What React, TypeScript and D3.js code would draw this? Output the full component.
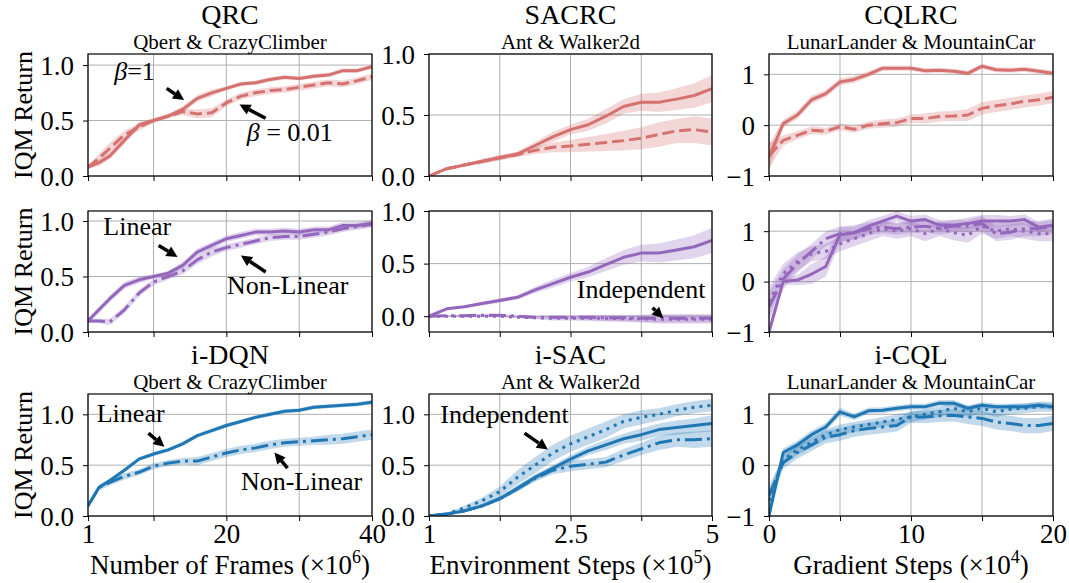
import { useEffect, useRef } from 'react';
import * as d3 from 'd3';

// ---- x grids ----
const framesX = [1, 2.5, 4, 6, 8, 10, 12, 14, 16, 18, 20, 22, 24, 26, 28, 30, 32, 34, 36, 38, 40];
const envX = [1, 1.25, 1.5, 1.75, 2, 2.25, 2.5, 2.75, 3, 3.25, 3.5, 3.75, 4, 4.25, 4.5, 4.75, 5];
const gradX = [0, 1, 2, 3, 4, 5, 6, 7, 8, 9, 10, 11, 12, 13, 14, 15, 16, 17, 18, 19, 20];

// ---- QRC ----
const qrcBeta1 = [0.08, 0.12, 0.18, 0.32, 0.46, 0.5, 0.54, 0.6, 0.7, 0.75, 0.79, 0.83, 0.84, 0.87, 0.89, 0.88, 0.9, 0.91, 0.95, 0.95, 0.985];
const qrcBeta1Err = [0.02, 0.03, 0.03, 0.03, 0.03, 0.02, 0.02, 0.03, 0.03, 0.03, 0.02, 0.02, 0.02, 0.02, 0.02, 0.02, 0.02, 0.02, 0.02, 0.02, 0.02];
const qrcBeta001 = [0.08, 0.16, 0.25, 0.37, 0.44, 0.5, 0.54, 0.58, 0.56, 0.57, 0.66, 0.72, 0.75, 0.77, 0.78, 0.8, 0.82, 0.84, 0.83, 0.86, 0.895];
const qrcBeta001Err = [0.02, 0.04, 0.05, 0.04, 0.03, 0.02, 0.02, 0.03, 0.04, 0.04, 0.03, 0.03, 0.03, 0.03, 0.03, 0.03, 0.03, 0.03, 0.03, 0.03, 0.03];

// ---- SACRC ----
const sacrcBeta1 = [0, 0.06, 0.09, 0.12, 0.15, 0.18, 0.25, 0.32, 0.38, 0.42, 0.49, 0.57, 0.605, 0.605, 0.63, 0.66, 0.715];
const sacrcBeta1Err = [0, 0.01, 0.01, 0.02, 0.02, 0.02, 0.03, 0.04, 0.04, 0.05, 0.06, 0.06, 0.07, 0.08, 0.09, 0.1, 0.11];
const sacrcBeta001 = [0, 0.06, 0.09, 0.12, 0.15, 0.175, 0.21, 0.235, 0.245, 0.26, 0.275, 0.29, 0.31, 0.34, 0.37, 0.38, 0.36];
const sacrcBeta001Err = [0, 0.01, 0.01, 0.02, 0.02, 0.02, 0.03, 0.04, 0.05, 0.06, 0.07, 0.08, 0.09, 0.1, 0.1, 0.11, 0.11];

// ---- CQLRC ----
const cqlrcBeta1 = [-0.63, 0.03, 0.2, 0.5, 0.62, 0.85, 0.9, 1.0, 1.12, 1.12, 1.12, 1.07, 1.08, 1.06, 1.02, 1.16, 1.09, 1.08, 1.1, 1.06, 1.02];
const cqlrcBeta1Err = [0.25, 0.08, 0.08, 0.08, 0.07, 0.07, 0.07, 0.06, 0.05, 0.05, 0.05, 0.05, 0.05, 0.05, 0.05, 0.05, 0.05, 0.05, 0.05, 0.05, 0.05];
const cqlrcBeta001 = [-0.6, -0.3, -0.2, -0.1, -0.12, -0.03, -0.08, 0.0, 0.03, 0.05, 0.13, 0.13, 0.17, 0.18, 0.2, 0.33, 0.38, 0.42, 0.47, 0.5, 0.55];
const cqlrcBeta001Err = [0.25, 0.1, 0.08, 0.08, 0.07, 0.07, 0.07, 0.07, 0.08, 0.08, 0.08, 0.1, 0.1, 0.1, 0.12, 0.12, 0.12, 0.12, 0.12, 0.12, 0.12];

// ---- row 2: purple ----
const dqnRcLinear = [0.1, 0.2, 0.3, 0.42, 0.47, 0.5, 0.53, 0.6, 0.72, 0.78, 0.84, 0.87, 0.9, 0.9, 0.91, 0.9, 0.92, 0.92, 0.96, 0.96, 0.98];
const dqnRcLinearErr = [0.02, 0.03, 0.03, 0.03, 0.03, 0.02, 0.02, 0.03, 0.03, 0.03, 0.03, 0.03, 0.03, 0.03, 0.03, 0.03, 0.03, 0.03, 0.03, 0.03, 0.03];
const dqnRcNonLinear = [0.1, 0.1, 0.09, 0.2, 0.35, 0.45, 0.5, 0.55, 0.65, 0.72, 0.76, 0.79, 0.82, 0.85, 0.86, 0.86, 0.88, 0.9, 0.93, 0.95, 0.97];
const dqnRcNonLinearErr = [0.02, 0.02, 0.03, 0.03, 0.03, 0.03, 0.03, 0.03, 0.04, 0.04, 0.03, 0.03, 0.03, 0.03, 0.03, 0.03, 0.03, 0.03, 0.03, 0.03, 0.03];

const sacRcShared = [0, 0.07, 0.09, 0.12, 0.15, 0.18, 0.25, 0.31, 0.37, 0.42, 0.49, 0.56, 0.6, 0.6, 0.63, 0.66, 0.72];
const sacRcSharedErr = [0, 0.01, 0.01, 0.02, 0.02, 0.02, 0.03, 0.04, 0.04, 0.05, 0.06, 0.07, 0.08, 0.09, 0.1, 0.11, 0.12];
const sacRcIndepA = [0, 0.005, 0.005, 0.01, 0.01, 0.0, -0.01, -0.01, -0.01, -0.01, -0.015, -0.015, -0.02, -0.02, -0.02, -0.02, -0.02];
const sacRcIndepB = [0, 0.0, 0.0, 0.0, 0.0, -0.01, -0.015, -0.02, -0.02, -0.02, -0.02, -0.025, -0.025, -0.03, -0.03, -0.03, -0.03];
const sacRcIndepErr = [0, 0.005, 0.01, 0.01, 0.01, 0.01, 0.015, 0.02, 0.02, 0.025, 0.03, 0.03, 0.035, 0.04, 0.04, 0.04, 0.04];

const cqlRcSolid = [-1, 0.0, 0.03, 0.15, 0.3, 0.93, 0.97, 1.1, 1.2, 1.3, 1.2, 1.23, 1.12, 1.12, 1.15, 1.2, 1.2, 1.2, 1.23, 1.08, 1.12];
const cqlRcSolidErr = [0.1, 0.06, 0.1, 0.2, 0.2, 0.15, 0.12, 0.12, 0.1, 0.1, 0.1, 0.1, 0.1, 0.1, 0.12, 0.12, 0.12, 0.1, 0.1, 0.1, 0.1];
const cqlRcDashDot = [-0.5, 0.05, 0.35, 0.6, 0.85, 0.95, 0.97, 1.05, 1.08, 1.05, 1.08, 1.1, 1.05, 1.1, 1.1, 1.15, 0.95, 0.98, 1.05, 1.05, 1.1];
const cqlRcDashDotErr = [0.3, 0.2, 0.18, 0.15, 0.15, 0.15, 0.15, 0.12, 0.12, 0.12, 0.12, 0.12, 0.12, 0.12, 0.12, 0.15, 0.15, 0.15, 0.15, 0.15, 0.15];
const cqlRcDotted = [-0.4, 0.15, 0.4, 0.55, 0.6, 0.75, 0.85, 0.95, 1.05, 1.0, 1.05, 0.95, 1.05, 0.97, 0.92, 1.1, 1.0, 1.05, 1.0, 0.95, 0.95];
const cqlRcDottedErr = [0.3, 0.2, 0.18, 0.15, 0.15, 0.15, 0.15, 0.15, 0.15, 0.15, 0.15, 0.15, 0.15, 0.15, 0.15, 0.15, 0.15, 0.15, 0.15, 0.15, 0.15];

// ---- row 3: blue ----
const iDqnLinear = [0.1, 0.28, 0.35, 0.45, 0.56, 0.61, 0.65, 0.71, 0.79, 0.84, 0.89, 0.93, 0.97, 1.0, 1.03, 1.04, 1.07, 1.08, 1.09, 1.1, 1.12];
const iDqnLinearErr = [0.02, 0.02, 0.02, 0.02, 0.02, 0.02, 0.02, 0.02, 0.02, 0.02, 0.02, 0.02, 0.02, 0.02, 0.02, 0.02, 0.02, 0.02, 0.02, 0.02, 0.02];
const iDqnNonLinear = [0.1, 0.28, 0.33, 0.39, 0.43, 0.49, 0.52, 0.54, 0.54, 0.58, 0.62, 0.65, 0.67, 0.7, 0.72, 0.73, 0.74, 0.75, 0.76, 0.78, 0.8];
const iDqnNonLinearErr = [0.02, 0.03, 0.03, 0.03, 0.03, 0.03, 0.03, 0.03, 0.04, 0.04, 0.04, 0.04, 0.04, 0.04, 0.04, 0.04, 0.04, 0.05, 0.05, 0.05, 0.05];

const iSacShared = [0, 0.02, 0.05, 0.1, 0.17, 0.27, 0.38, 0.47, 0.56, 0.64, 0.7, 0.76, 0.8, 0.85, 0.87, 0.89, 0.91];
const iSacSharedErr = [0, 0.01, 0.01, 0.02, 0.02, 0.03, 0.03, 0.03, 0.04, 0.04, 0.05, 0.05, 0.06, 0.06, 0.07, 0.07, 0.08];
const iSacIndependent = [0, 0.02, 0.08, 0.15, 0.24, 0.38, 0.5, 0.62, 0.71, 0.78, 0.85, 0.93, 0.97, 1.0, 1.04, 1.07, 1.09];
const iSacIndependentErr = [0, 0.01, 0.02, 0.03, 0.05, 0.07, 0.08, 0.08, 0.08, 0.08, 0.08, 0.07, 0.07, 0.06, 0.06, 0.06, 0.06];
const iSacNonShared = [0, 0.02, 0.05, 0.1, 0.17, 0.27, 0.37, 0.45, 0.49, 0.51, 0.53, 0.6, 0.66, 0.72, 0.75, 0.75, 0.76];
const iSacNonSharedErr = [0, 0.01, 0.01, 0.02, 0.02, 0.03, 0.03, 0.04, 0.05, 0.05, 0.05, 0.06, 0.06, 0.07, 0.07, 0.08, 0.08];

const iCqlSolid = [-1, 0.25, 0.4, 0.6, 0.75, 1.05, 0.95, 1.07, 1.08, 1.12, 1.15, 1.15, 1.22, 1.22, 1.12, 1.18, 1.15, 1.15, 1.15, 1.18, 1.15];
const iCqlSolidErr = [0.1, 0.08, 0.08, 0.08, 0.08, 0.08, 0.06, 0.06, 0.06, 0.06, 0.06, 0.06, 0.06, 0.06, 0.06, 0.06, 0.06, 0.06, 0.06, 0.06, 0.06];
const iCqlDotted = [-0.7, 0.1, 0.3, 0.45, 0.6, 0.7, 0.75, 0.8, 0.85, 0.9, 0.95, 1.0, 1.05, 1.12, 1.05, 1.12, 1.05, 1.1, 1.12, 1.15, 1.15];
const iCqlDottedErr = [0.2, 0.1, 0.1, 0.1, 0.1, 0.1, 0.1, 0.1, 0.1, 0.1, 0.1, 0.1, 0.1, 0.1, 0.1, 0.1, 0.1, 0.1, 0.1, 0.1, 0.1];
const iCqlDashDot = [-0.6, 0.05, 0.25, 0.4, 0.55, 0.6, 0.68, 0.72, 0.75, 0.78, 0.95, 0.95, 0.97, 0.98, 0.95, 0.92, 0.85, 0.82, 0.78, 0.78, 0.82];
const iCqlDashDotErr = [0.2, 0.12, 0.12, 0.12, 0.12, 0.12, 0.12, 0.12, 0.12, 0.12, 0.12, 0.12, 0.12, 0.12, 0.14, 0.15, 0.15, 0.15, 0.15, 0.15, 0.15];

// ---- ticks ----
const framesTicks = [1, 10, 20, 30, 40];
const framesTickLabels = ['1', '', '20', '', '40'];
const envTicks = [1, 2, 3, 4, 5];
const envTickLabels = ['1', '', '2.5', '', '5'];
const gradTicks = [0, 5, 10, 15, 20];
const gradTickLabels = ['0', '', '10', '', '20'];
const unitTicks = [0, 0.5, 1];
const unitTickLabels = ['0.0', '0.5', '1.0'];
const wideTicks = [-1, 0, 1];
const wideTickLabels = ['\u22121', '0', '1'];

const titles = ['QRC', 'SACRC', 'CQLRC', '', '', '', 'i-DQN', 'i-SAC', 'i-CQL'];
const subtitles = ['Qbert & CrazyClimber', 'Ant & Walker2d', 'LunarLander & MountainCar'];
const xLabels = [
    { text: 'Number of Frames (\u00d710', exp: '6' },
    { text: 'Environment Steps (\u00d710', exp: '5' },
    { text: 'Gradient Steps (\u00d710', exp: '4' },
];

const RED = '#d5716f';
const PURPLE = '#9467bd';
const BLUE = '#1f77b4';
const FONT = 'Liberation Serif';

const DASH = { solid: null, dashed: '12,5', dashdot: '17,5,3,5', dotted: '3,5' };

const cols = [
    { left: 88, right: 372 },
    { left: 429, right: 712 },
    { left: 769, right: 1053 },
];
const rows = [
    { top: 54, bottom: 176 },
    { top: 211, bottom: 332 },
    { top: 394, bottom: 516 },
];

const s = (x, y, err, style) => ({ x, y, err, style });

const panels = [
    {
        xDomain: [1, 40], yDomain: [0, 1.1], xTicks: framesTicks, xLabels: framesTickLabels, yTicks: unitTicks, yLabels: unitTickLabels, color: RED,
        series: [s(framesX, qrcBeta1, qrcBeta1Err, 'solid'), s(framesX, qrcBeta001, qrcBeta001Err, 'dashed')],
        notes: [
            { label: [['β', true], ['=1', false]], at: [4.6, 0.865], from: [11.8, 0.79], to: [14.2, 0.685] },
            { label: [['β', true], [' = 0.01', false]], at: [22.8, 0.32], from: [25.4, 0.52], to: [21.8, 0.645] },
        ],
    },
    {
        xDomain: [1, 5], yDomain: [0, 1], xTicks: envTicks, xLabels: envTickLabels, yTicks: unitTicks, yLabels: unitTickLabels, color: RED,
        series: [s(envX, sacrcBeta1, sacrcBeta1Err, 'solid'), s(envX, sacrcBeta001, sacrcBeta001Err, 'dashed')],
        notes: [],
    },
    {
        xDomain: [0, 20], yDomain: [-1, 1.4], xTicks: gradTicks, xLabels: gradTickLabels, yTicks: wideTicks, yLabels: wideTickLabels, color: RED,
        series: [s(gradX, cqlrcBeta1, cqlrcBeta1Err, 'solid'), s(gradX, cqlrcBeta001, cqlrcBeta001Err, 'dashed')],
        notes: [],
    },
    {
        xDomain: [1, 40], yDomain: [0, 1.09], xTicks: framesTicks, xLabels: framesTickLabels, yTicks: unitTicks, yLabels: unitTickLabels, color: PURPLE,
        series: [s(framesX, dqnRcLinear, dqnRcLinearErr, 'solid'), s(framesX, dqnRcNonLinear, dqnRcNonLinearErr, 'dashdot')],
        notes: [
            { label: [['Linear', false]], at: [3.1, 0.87], from: [10.7, 0.78], to: [13.3, 0.675] },
            { label: [['Non-Linear', false]], at: [20.1, 0.345], from: [25.4, 0.54], to: [22.0, 0.69] },
        ],
    },
    {
        xDomain: [1, 5], yDomain: [-0.15, 1], xTicks: envTicks, xLabels: envTickLabels, yTicks: unitTicks, yLabels: unitTickLabels, color: PURPLE,
        series: [s(envX, sacRcShared, sacRcSharedErr, 'solid'), s(envX, sacRcIndepA, sacRcIndepErr, 'dashdot'), s(envX, sacRcIndepB, sacRcIndepErr, 'dotted')],
        notes: [
            { label: [['Independent', false]], at: [3.09, 0.17], from: [4.16, 0.08], to: [4.31, -0.02] },
        ],
    },
    {
        xDomain: [0, 20], yDomain: [-1, 1.4], xTicks: gradTicks, xLabels: gradTickLabels, yTicks: wideTicks, yLabels: wideTickLabels, color: PURPLE,
        series: [s(gradX, cqlRcSolid, cqlRcSolidErr, 'solid'), s(gradX, cqlRcDashDot, cqlRcDashDotErr, 'dashdot'), s(gradX, cqlRcDotted, cqlRcDottedErr, 'dotted')],
        notes: [],
    },
    {
        xDomain: [1, 40], yDomain: [0, 1.2], xTicks: framesTicks, xLabels: framesTickLabels, yTicks: unitTicks, yLabels: unitTickLabels, color: BLUE,
        series: [s(framesX, iDqnLinear, iDqnLinearErr, 'solid'), s(framesX, iDqnNonLinear, iDqnNonLinearErr, 'dashdot')],
        notes: [
            { label: [['Linear', false]], at: [2.2, 0.925], from: [9.3, 0.815], to: [11.5, 0.68] },
            { label: [['Non-Linear', false]], at: [22.0, 0.255], from: [28.4, 0.47], to: [26.6, 0.625] },
        ],
    },
    {
        xDomain: [1, 5], yDomain: [0, 1.2], xTicks: envTicks, xLabels: envTickLabels, yTicks: unitTicks, yLabels: unitTickLabels, color: BLUE,
        series: [s(envX, iSacShared, iSacSharedErr, 'solid'), s(envX, iSacIndependent, iSacIndependentErr, 'dotted'), s(envX, iSacNonShared, iSacNonSharedErr, 'dashdot')],
        notes: [
            { label: [['Independent', false]], at: [1.16, 0.91], from: [2.35, 0.815], to: [2.68, 0.655] },
        ],
    },
    {
        xDomain: [0, 20], yDomain: [-1, 1.4], xTicks: gradTicks, xLabels: gradTickLabels, yTicks: wideTicks, yLabels: wideTickLabels, color: BLUE,
        series: [s(gradX, iCqlSolid, iCqlSolidErr, 'solid'), s(gradX, iCqlDotted, iCqlDottedErr, 'dotted'), s(gradX, iCqlDashDot, iCqlDashDotErr, 'dashdot')],
        notes: [],
    },
];

const App = () => {
    const ref = useRef(null);

    useEffect(() => {
        const svg = d3.select(ref.current);
        svg.selectAll('*').remove();
        const defs = svg.append('defs');

        panels.forEach((p, i) => {
            const row = Math.floor(i / 3);
            const col = i % 3;
            const { left, right } = cols[col];
            const { top, bottom } = rows[row];

            const x = d3.scaleLinear().domain(p.xDomain).range([left, right]);
            const y = d3.scaleLinear().domain(p.yDomain).range([bottom, top]);
            const g = svg.append('g');

            defs.append('clipPath').attr('id', `clip-${i}`)
                .append('rect')
                .attr('x', left).attr('y', top)
                .attr('width', right - left).attr('height', bottom - top);

            // grid
            g.selectAll('.vgrid').data(p.xTicks).enter().append('line')
                .attr('x1', d => x(d)).attr('x2', d => x(d))
                .attr('y1', top).attr('y2', bottom)
                .attr('stroke', '#b0b0b0').attr('stroke-width', 1);
            g.selectAll('.hgrid').data(p.yTicks).enter().append('line')
                .attr('x1', left).attr('x2', right)
                .attr('y1', d => y(d)).attr('y2', d => y(d))
                .attr('stroke', '#b0b0b0').attr('stroke-width', 1);

            const plot = g.append('g').attr('clip-path', `url(#clip-${i})`);

            p.series.forEach(sr => {
                const pts = sr.x.map((xv, k) => ({ x: xv, y: sr.y[k], e: sr.err[k] }));
                const area = d3.area()
                    .x(d => x(d.x))
                    .y0(d => y(d.y - d.e))
                    .y1(d => y(d.y + d.e));
                plot.append('path')
                    .attr('d', area(pts))
                    .attr('fill', p.color)
                    .attr('opacity', 0.28);
            });
            p.series.forEach(sr => {
                const pts = sr.x.map((xv, k) => ({ x: xv, y: sr.y[k] }));
                const line = d3.line().x(d => x(d.x)).y(d => y(d.y));
                plot.append('path')
                    .attr('d', line(pts))
                    .attr('fill', 'none')
                    .attr('stroke', p.color)
                    .attr('stroke-width', 3)
                    .attr('stroke-linejoin', 'round')
                    .attr('stroke-dasharray', DASH[sr.style]);
            });

            // frame
            g.append('rect')
                .attr('x', left).attr('y', top)
                .attr('width', right - left).attr('height', bottom - top)
                .attr('fill', 'none').attr('stroke', '#000').attr('stroke-width', 1.2);

            // axes
            const xAxis = g.append('g')
                .attr('transform', `translate(0, ${bottom})`)
                .call(d3.axisBottom(x).tickValues(p.xTicks).tickSize(5)
                    .tickFormat((d, k) => (row === 2 ? p.xLabels[k] : '')));
            xAxis.select('.domain').remove();
            xAxis.selectAll('text')
                .attr('y', 27).attr('dy', 0).attr('fill', '#000')
                .style('font-family', FONT).style('font-size', '27px');

            const yAxis = g.append('g')
                .attr('transform', `translate(${left}, 0)`)
                .call(d3.axisLeft(y).tickValues(p.yTicks).tickSize(5)
                    .tickFormat((d, k) => p.yLabels[k]));
            yAxis.select('.domain').remove();
            yAxis.selectAll('text')
                .attr('x', -14).attr('dy', '0.34em').attr('fill', '#000')
                .style('font-family', FONT).style('font-size', '27px');

            const cx = (left + right) / 2;
            if (titles[i]) {
                g.append('text')
                    .attr('x', cx).attr('y', top - 30)
                    .attr('text-anchor', 'middle')
                    .style('font-family', FONT).style('font-size', '28px')
                    .text(titles[i]);
                g.append('text')
                    .attr('x', cx).attr('y', top - 5)
                    .attr('text-anchor', 'middle')
                    .style('font-family', FONT).style('font-size', '21px')
                    .text(subtitles[col]);
            }

            if (col === 0) {
                g.append('text')
                    .attr('transform', `translate(32, ${(top + bottom) / 2}) rotate(-90)`)
                    .attr('text-anchor', 'middle')
                    .style('font-family', FONT).style('font-size', '26px')
                    .text('IQM Return');
            }

            if (row === 2) {
                const lab = g.append('text')
                    .attr('x', cx).attr('y', 574)
                    .attr('text-anchor', 'middle')
                    .style('font-family', FONT).style('font-size', '27px');
                lab.append('tspan').text(xLabels[col].text);
                lab.append('tspan').style('font-size', '18px').attr('dy', -11).text(xLabels[col].exp);
                lab.append('tspan').attr('dy', 11).text(')');
            }

            // annotations
            p.notes.forEach(n => {
                const t = g.append('text')
                    .attr('x', x(n.at[0])).attr('y', y(n.at[1]))
                    .style('font-family', FONT).style('font-size', '26px');
                n.label.forEach(([str, italic]) => {
                    t.append('tspan').style('font-style', italic ? 'italic' : 'normal').text(str);
                });
                const x0 = x(n.from[0]), y0 = y(n.from[1]);
                const x1 = x(n.to[0]), y1 = y(n.to[1]);
                const len = Math.hypot(x1 - x0, y1 - y0);
                const ux = (x1 - x0) / len, uy = (y1 - y0) / len;
                const head = 11, half = 5.5;
                const bx = x1 - ux * head, by = y1 - uy * head;
                if (len > head) {
                    g.append('line')
                        .attr('x1', x0).attr('y1', y0).attr('x2', bx).attr('y2', by)
                        .attr('stroke', '#000').attr('stroke-width', 3.5);
                }
                g.append('path')
                    .attr('d', `M${x1},${y1} L${bx - uy * half},${by + ux * half} L${bx + uy * half},${by - ux * half} Z`)
                    .attr('fill', '#000');
            });
        });
    }, []);

    return (
        <svg ref={ref} width={1069} height={583}
            style={{ position: 'absolute', left: 0, top: 0, background: '#fff', fontFamily: FONT }} />
    );
};

export default App;
